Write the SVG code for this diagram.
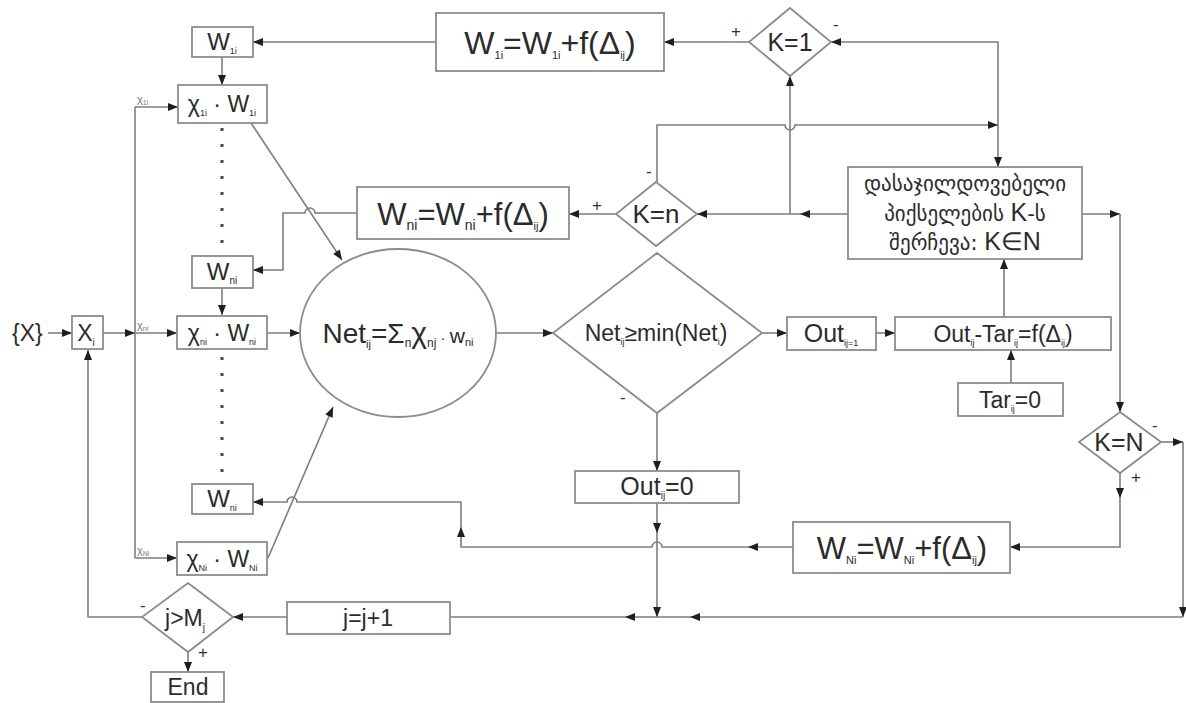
<svg xmlns="http://www.w3.org/2000/svg" width="1186" height="703" viewBox="0 0 1186 703">
<style>
.ln{fill:none;stroke:#7d7d7d;stroke-width:1.6}
.bx{fill:#fff;stroke:#8c8c8c;stroke-width:1.8}
.t{font-family:"Liberation Sans",Arial,sans-serif;fill:#2b2b2b}
.g{font-family:"DejaVu Sans","Noto Sans",sans-serif;fill:#2b2b2b}
.lb{font-family:"Liberation Sans",Arial,sans-serif;fill:#333;font-size:17px}
.sm{font-family:"Liberation Sans",Arial,sans-serif;fill:#777;font-size:11px}
.dot{fill:none;stroke:#444;stroke-width:3;stroke-dasharray:3 13}
</style>
<defs>
<marker id="a" viewBox="0 0 10 8" refX="10" refY="4" markerWidth="11" markerHeight="8" markerUnits="userSpaceOnUse" orient="auto"><path d="M0,0L10,4L0,8z" fill="#1e1e1e"/></marker>
</defs>
<rect width="1186" height="703" fill="#fff"/>

<g id="connectors">
<path class="ln" d="M749,42L664,42" marker-end="url(#a)"/>
<path class="ln" d="M436,42L253,42" marker-end="url(#a)"/>
<path class="ln" d="M222,57L222,85" marker-end="url(#a)"/>
<path class="ln" d="M998,125L998,42L831,42" marker-end="url(#a)"/>
<path class="ln" d="M998,125L998,167" marker-end="url(#a)"/>
<path class="ln" d="M657,182L657,125L785,125A5,5 0 0 0 795,125L998,125" marker-end="url(#a)"/>
<path class="ln" d="M790,214L790,76" marker-end="url(#a)"/>
<path class="ln" d="M848,214L800,214" marker-end="url(#a)"/>
<path class="ln" d="M800,214L697,214" marker-end="url(#a)"/>
<path class="ln" d="M616,214L569,214" marker-end="url(#a)"/>
<path class="ln" d="M357,213L315,213A5,5 0 0 0 305,213L283,213L283,270L253,270" marker-end="url(#a)"/>
<path class="ln" d="M222,288L222,315" marker-end="url(#a)"/>
<path class="ln" d="M251,123L342,260" marker-end="url(#a)"/>
<path class="ln" d="M267,333L300,333" marker-end="url(#a)"/>
<path class="ln" d="M268,558L333,407" marker-end="url(#a)"/>
<path class="ln" d="M497,333L553,333" marker-end="url(#a)"/>
<path class="ln" d="M762,333L787,333" marker-end="url(#a)"/>
<path class="ln" d="M876,333L895,333" marker-end="url(#a)"/>
<path class="ln" d="M1004,317L1004,259" marker-end="url(#a)"/>
<path class="ln" d="M1011,383L1011,350" marker-end="url(#a)"/>
<path class="ln" d="M657,413L657,471" marker-end="url(#a)"/>
<path class="ln" d="M657,503L657,533" marker-end="url(#a)"/>
<path class="ln" d="M657,533L657,617" marker-end="url(#a)"/>
<path class="ln" d="M1082,214L1120,214" marker-end="url(#a)"/>
<path class="ln" d="M1120,214L1120,412" marker-end="url(#a)"/>
<path class="ln" d="M1161,442L1183,442" marker-end="url(#a)"/>
<path class="ln" d="M1183,442L1183,617" marker-end="url(#a)"/>
<path class="ln" d="M1183,617L690,617" marker-end="url(#a)"/>
<path class="ln" d="M690,617L625,617" marker-end="url(#a)"/>
<path class="ln" d="M625,617L450,617"/>
<path class="ln" d="M287,617L233,617" marker-end="url(#a)"/>
<path class="ln" d="M1120,473L1120,498" marker-end="url(#a)"/>
<path class="ln" d="M1120,498L1120,547L1010,547" marker-end="url(#a)"/>
<path class="ln" d="M793,547L748,547" marker-end="url(#a)"/>
<path class="ln" d="M748,547L662,547A5,5 0 0 0 652,547L461,547L461,527" marker-end="url(#a)"/>
<path class="ln" d="M461,527L461,502L297,502A5,5 0 0 0 287,502L253,502" marker-end="url(#a)"/>
<path class="ln" d="M142,617L88,617L88,350" marker-end="url(#a)"/>
<path class="ln" d="M188,652L188,672" marker-end="url(#a)"/>
<path class="ln" d="M48,333L72,333" marker-end="url(#a)"/>
<path class="ln" d="M103,333L135,333" marker-end="url(#a)"/>
<path class="ln" d="M135,107L135,558"/>
<path class="ln" d="M135,107L178,107" marker-end="url(#a)"/>
<path class="ln" d="M135,333L177,333" marker-end="url(#a)"/>
<path class="ln" d="M135,558L177,558" marker-end="url(#a)"/>
<path class="dot" d="M222,128L222,256"/>
<path class="dot" d="M222,357L222,484"/>
<text class="lb" x="731" y="37">+</text>
<text class="lb" x="833" y="30">-</text>
<text class="lb" x="646" y="177">-</text>
<text class="lb" x="592" y="211">+</text>
<text class="lb" x="620" y="403">-</text>
<text class="lb" x="1152" y="431">-</text>
<text class="lb" x="1131" y="483">+</text>
<text class="lb" x="140" y="611">-</text>
<text class="lb" x="198" y="658">+</text>
<text class="sm" x="137" y="103">χ<tspan font-size="7" dy="2">1i</tspan></text>
<text class="sm" x="137" y="329">χ<tspan font-size="7" dy="2">ni</tspan></text>
<text class="sm" x="137" y="554">χ<tspan font-size="7" dy="2">Ni</tspan></text>
</g>

<g id="X">
<text class="t" x="12" y="341" font-size="23">{X}</text>
</g>
<g id="Xi">
<rect class="bx" x="72" y="316" width="31" height="33"/>
<text class="t" x="86" y="341" font-size="23" text-anchor="middle">X<tspan font-size="10" dy="5">i</tspan></text>
</g>
<g id="W1i">
<rect class="bx" x="192" y="27" width="61" height="30"/>
<text class="t" x="222" y="50" font-size="24" text-anchor="middle">W<tspan font-size="9" dy="4">1i</tspan></text>
</g>
<g id="X1iW1i">
<rect class="bx" x="178" y="85" width="89" height="38"/>
<text class="t" x="222" y="112" font-size="23" text-anchor="middle">χ<tspan font-size="9" dy="4">1i</tspan><tspan dy="-4"> · W</tspan><tspan font-size="9" dy="4">1i</tspan></text>
</g>
<g id="Wni">
<rect class="bx" x="192" y="256" width="61" height="32"/>
<text class="t" x="222" y="280" font-size="24" text-anchor="middle">W<tspan font-size="10" dy="4">ni</tspan></text>
</g>
<g id="XniWni">
<rect class="bx" x="177" y="316" width="90" height="33"/>
<text class="t" x="222" y="341" font-size="23" text-anchor="middle">χ<tspan font-size="9" dy="4">ni</tspan><tspan dy="-4"> · W</tspan><tspan font-size="9" dy="4">ni</tspan></text>
</g>
<g id="WNi_low">
<rect class="bx" x="192" y="484" width="61" height="30"/>
<text class="t" x="222" y="507" font-size="24" text-anchor="middle">W<tspan font-size="9" dy="4">ni</tspan></text>
</g>
<g id="XNiWNi">
<rect class="bx" x="177" y="542" width="90" height="33"/>
<text class="t" x="222" y="567" font-size="23" text-anchor="middle">χ<tspan font-size="9" dy="4">Ni</tspan><tspan dy="-4"> · W</tspan><tspan font-size="9" dy="4">Ni</tspan></text>
</g>
<g id="net">
<ellipse class="bx" cx="398" cy="333" rx="98" ry="84"/>
<text class="t" x="398" y="343" font-size="28" text-anchor="middle">Net<tspan font-size="11" dy="5">ij</tspan><tspan dy="-5">=Σ</tspan><tspan font-size="12" dy="4">n</tspan><tspan font-size="30" dy="-4">χ</tspan><tspan font-size="12" dy="4">nj</tspan><tspan font-size="15" dy="-4"> · </tspan><tspan font-size="21">w</tspan><tspan font-size="11" dy="3">ni</tspan></text>
</g>
<g id="cond">
<polygon class="bx" points="657,253 762,333 657,413 553,333"/>
<text class="t" x="656" y="341" font-size="23" text-anchor="middle">Net<tspan font-size="9" dy="4">ij</tspan><tspan dy="-4">≥min(Net</tspan><tspan font-size="9" dy="4">i</tspan><tspan dy="-4">)</tspan></text>
</g>
<g id="out1">
<rect class="bx" x="787" y="317" width="89" height="33"/>
<text class="t" x="831" y="342" font-size="25" text-anchor="middle">Out<tspan font-size="9" dy="4">ij=1</tspan></text>
</g>
<g id="diff">
<rect class="bx" x="895" y="317" width="216" height="33"/>
<text class="t" x="1003" y="342" font-size="23" text-anchor="middle">Out<tspan font-size="9" dy="4">ij</tspan><tspan dy="-4">-Tar</tspan><tspan font-size="9" dy="4">ij</tspan><tspan dy="-4">=f(Δ</tspan><tspan font-size="9" dy="4">ij</tspan><tspan dy="-4">)</tspan></text>
</g>
<g id="tar">
<rect class="bx" x="958" y="383" width="105" height="33"/>
<text class="t" x="1010" y="408" font-size="23" text-anchor="middle">Tar<tspan font-size="9" dy="4">ij</tspan><tspan dy="-4">=0</tspan></text>
</g>
<g id="out0">
<rect class="bx" x="575" y="471" width="164" height="32"/>
<text class="t" x="657" y="495" font-size="25" text-anchor="middle">Out<tspan font-size="10" dy="4">ij</tspan><tspan dy="-4">=0</tspan></text>
</g>
<g id="select">
<rect class="bx" x="848" y="167" width="234" height="92"/>
<text class="g" x="965" y="191" font-size="21" text-anchor="middle">დასაჯილდოვებელი</text>
<text class="g" x="965" y="221" font-size="21" text-anchor="middle">პიქსელების  <tspan class="t" font-size="25">K</tspan>-ს</text>
<text class="g" x="965" y="250" font-size="21" text-anchor="middle">შერჩევა: <tspan class="t" font-size="25">K∈N</tspan></text>
</g>
<g id="K1">
<polygon class="bx" points="790,8 831,42 790,76 749,42"/>
<text class="t" x="790" y="51" font-size="25" text-anchor="middle">K=1</text>
</g>
<g id="W1upd">
<rect class="bx" x="436" y="13" width="228" height="58"/>
<text class="t" x="550" y="54" font-size="32" text-anchor="middle">W<tspan font-size="11" dy="5">1i</tspan><tspan dy="-5">=W</tspan><tspan font-size="11" dy="5">1i</tspan><tspan dy="-5">+f(Δ</tspan><tspan font-size="11" dy="5">ij</tspan><tspan dy="-5">)</tspan></text>
</g>
<g id="Kn">
<polygon class="bx" points="656,182 697,214 656,246 616,214"/>
<text class="t" x="656" y="223" font-size="26" text-anchor="middle">K=n</text>
</g>
<g id="Wnupd">
<rect class="bx" x="357" y="187" width="212" height="52"/>
<text class="t" x="463" y="225" font-size="31" text-anchor="middle">W<tspan font-size="14" dy="5">ni</tspan><tspan dy="-5">=W</tspan><tspan font-size="14" dy="5">ni</tspan><tspan dy="-5">+f(Δ</tspan><tspan font-size="11" dy="5">ij</tspan><tspan dy="-5">)</tspan></text>
</g>
<g id="KN">
<polygon class="bx" points="1120,412 1161,442 1120,473 1079,442"/>
<text class="t" x="1119" y="451" font-size="25" text-anchor="middle">K=N</text>
</g>
<g id="WNupd">
<rect class="bx" x="793" y="522" width="217" height="51"/>
<text class="t" x="902" y="559" font-size="31" text-anchor="middle">W<tspan font-size="11" dy="5">Ni</tspan><tspan dy="-5">=W</tspan><tspan font-size="11" dy="5">Ni</tspan><tspan dy="-5">+f(Δ</tspan><tspan font-size="11" dy="5">ij</tspan><tspan dy="-5">)</tspan></text>
</g>
<g id="jinc">
<rect class="bx" x="287" y="602" width="163" height="32"/>
<text class="t" x="368" y="626" font-size="23" text-anchor="middle">j=j+1</text>
</g>
<g id="jM">
<polygon class="bx" points="188,583 233,617 188,652 142,617"/>
<text class="t" x="185" y="626" font-size="23" text-anchor="middle">j&gt;M<tspan font-size="10" dy="5">j</tspan></text>
</g>
<g id="end">
<rect class="bx" x="151" y="672" width="73" height="30"/>
<text class="t" x="188" y="695" font-size="23" text-anchor="middle">End</text>
</g>
</svg>
